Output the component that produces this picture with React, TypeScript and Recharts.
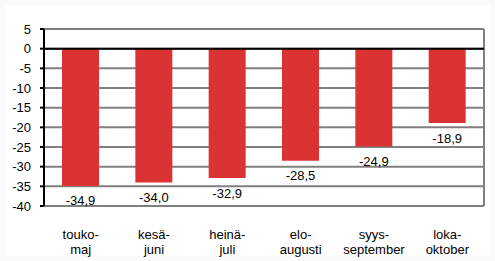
import React from "react";
import { BarChart, Bar, XAxis, YAxis, CartesianGrid, ReferenceLine, LabelList } from "recharts";

const categoriesTop = ["touko-", "kesä-", "heinä-", "elo-", "syys-", "loka-"];
const categoriesBottom = ["maj", "juni", "juli", "augusti", "september", "oktober"];
const values = [-34.9, -34.0, -32.9, -28.5, -24.9, -18.9];
const yTicks = [5, 0, -5, -10, -15, -20, -25, -30, -35, -40];

const data = values.map((v, i) => ({ name: String(i), top: categoriesTop[i], bottom: categoriesBottom[i], value: v }));

const FONT = "'Liberation Sans', Arial, sans-serif";

const CatTick = (props: any) => {
  const { x, y, payload } = props;
  const i = Number(payload.value);
  return (
    <g>
      <text x={x} y={y + 20.7} textAnchor="middle" dominantBaseline="central" fontFamily={FONT} fontSize={13} fill="#000">{categoriesTop[i]}</text>
      <text x={x} y={y + 35.7} textAnchor="middle" dominantBaseline="central" fontFamily={FONT} fontSize={13} fill="#000">{categoriesBottom[i]}</text>
    </g>
  );
};

const ValueLabel = (props: any) => {
  const { x, y, width, height, value } = props;
  const bottom = Math.max(y, y + height);
  return (
    <text x={x + width / 2} y={bottom + 15} textAnchor="middle" dominantBaseline="central" fontFamily={FONT} fontSize={13} fill="#000">
      {Number(value).toFixed(1).replace(".", ",")}
    </text>
  );
};

export default function App() {
  return (
    <div style={{ position: "absolute", left: 0, top: 0, width: 495, height: 261, background: "#fafafa" }}>
      <div style={{ position: "absolute", left: 5, top: 5, width: 485, height: 251, background: "#fff" }} />
      <div style={{ position: "absolute", left: 0, top: 0 }}>
        <BarChart width={495} height={261} data={data} margin={{ top: 29, right: 11, left: 0, bottom: 0 }}>
          <CartesianGrid
            vertical={true}
            stroke="#808080"
            strokeWidth={2}
            verticalCoordinatesGenerator={({ offset }: any) => [offset.left + offset.width]}
          />
          <XAxis dataKey="name" height={55} axisLine={false} tickLine={false} tick={<CatTick />} interval={0} />
          <YAxis
            domain={[-40, 5]}
            ticks={yTicks}
            width={44}
            interval={0}
            axisLine={{ stroke: "#000", strokeWidth: 2 }}
            tickLine={{ stroke: "#000", strokeWidth: 2 }}
            tickSize={4}
            tickMargin={9}
            tick={{ fontFamily: FONT, fontSize: 13, fill: "#000" }}
          />
          <Bar dataKey="value" fill="#DB3333" barSize={37} isAnimationActive={false}>
            <LabelList dataKey="value" content={<ValueLabel />} />
          </Bar>
          <ReferenceLine y={0} stroke="#000" strokeWidth={2} />
        </BarChart>
      </div>
    </div>
  );
}
